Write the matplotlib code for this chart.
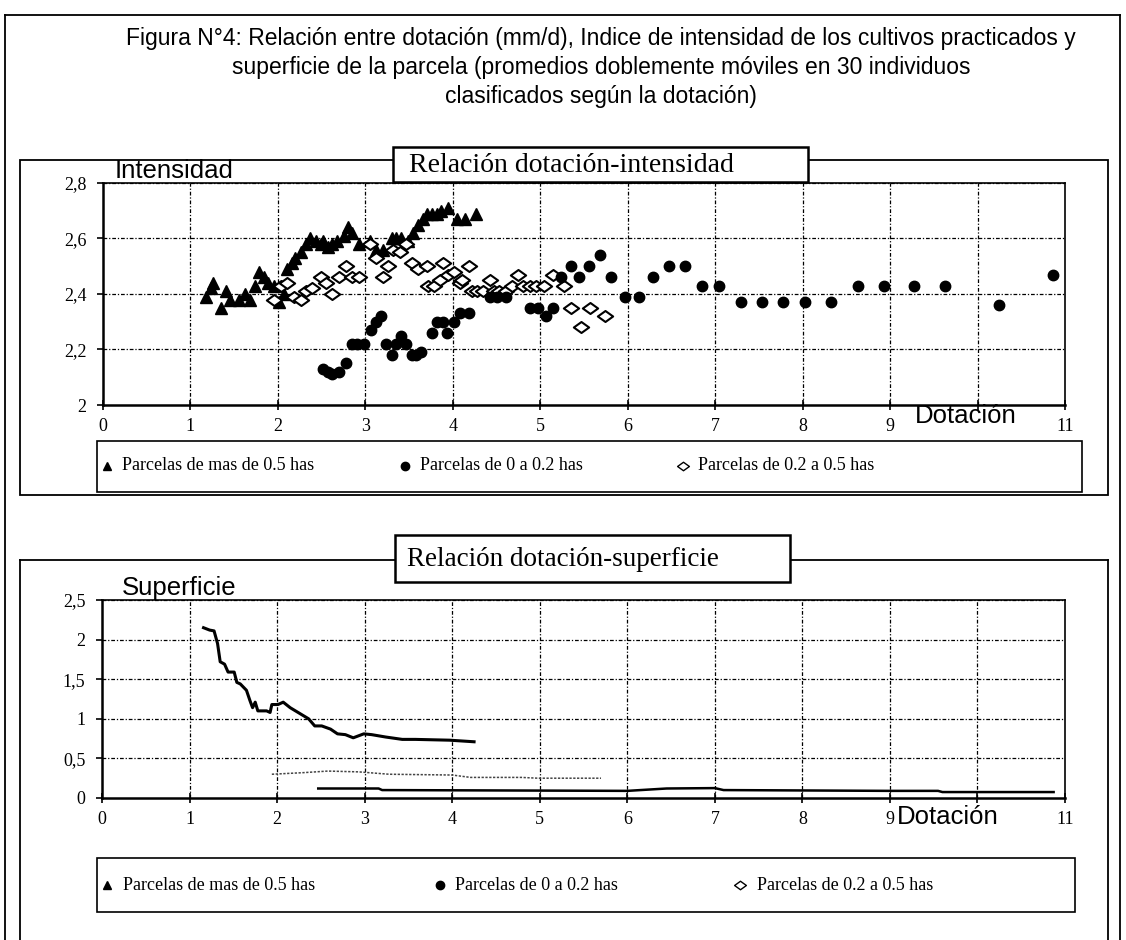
import matplotlib
matplotlib.use('Agg')
import matplotlib.pyplot as plt
from matplotlib.lines import Line2D
from matplotlib.patches import Rectangle
from matplotlib.path import Path

# ---------------- data ----------------
title_lines = ["Figura N°4: Relación entre dotación (mm/d), Indice de intensidad de los cultivos practicados y",
               "superficie de la parcela (promedios doblemente móviles en 30 individuos",
               "clasificados según la dotación)"]
legend_labels = ["Parcelas de mas de 0.5 has", "Parcelas de 0 a 0.2 has", "Parcelas de 0.2 a 0.5 has"]

x_ticks = [0, 1, 2, 3, 4, 5, 6, 7, 8, 9, 10, 11]
x_ticklabels = ["0", "1", "2", "3", "4", "5", "6", "7", "8", "9", "", "11"]
int_yticks = [2.0, 2.2, 2.4, 2.6, 2.8]
int_yticklabels = ["2", "2,2", "2,4", "2,6", "2,8"]
sup_yticks = [0, 0.5, 1.0, 1.5, 2.0, 2.5]
sup_yticklabels = ["0", "0,5", "1", "1,5", "2", "2,5"]

# Intensidad: parcelas > 0.5 has (triangles)
tri_x = [1.18, 1.24, 1.26, 1.35, 1.41, 1.45, 1.55, 1.62, 1.68, 1.74, 1.78, 1.84, 1.89, 1.95,
         2.01, 2.07, 2.10, 2.16, 2.20, 2.26, 2.32, 2.37, 2.43, 2.49, 2.51, 2.57, 2.62, 2.68,
         2.76, 2.80, 2.85, 2.93, 3.05, 3.12, 3.20, 3.30, 3.35, 3.41, 3.49, 3.55, 3.60, 3.66,
         3.70, 3.76, 3.82, 3.87, 3.95, 4.05, 4.14, 4.27]
tri_y = [2.39, 2.42, 2.44, 2.35, 2.41, 2.38, 2.38, 2.40, 2.38, 2.43, 2.48, 2.46, 2.44, 2.43,
         2.37, 2.40, 2.49, 2.51, 2.53, 2.55, 2.58, 2.60, 2.59, 2.58, 2.59, 2.57, 2.58, 2.59,
         2.61, 2.64, 2.62, 2.58, 2.59, 2.56, 2.56, 2.60, 2.60, 2.60, 2.59, 2.62, 2.65, 2.67,
         2.69, 2.69, 2.69, 2.70, 2.71, 2.67, 2.67, 2.69]

# Intensidad: parcelas 0 - 0.2 has (filled circles)
cir_x = [2.51, 2.57, 2.62, 2.70, 2.78, 2.85, 2.91, 2.99, 3.07, 3.12, 3.18, 3.24, 3.30, 3.35,
         3.41, 3.47, 3.53, 3.58, 3.64, 3.76, 3.82, 3.89, 3.93, 4.01, 4.08, 4.18, 4.43, 4.51,
         4.61, 4.88, 4.97, 5.07, 5.15, 5.24, 5.35, 5.44, 5.56, 5.68, 5.81, 5.97, 6.13, 6.29,
         6.47, 6.65, 6.85, 7.04, 7.29, 7.53, 7.78, 8.03, 8.33, 8.63, 8.93, 9.27, 9.63, 10.24,
         10.86]
cir_y = [2.13, 2.12, 2.11, 2.12, 2.15, 2.22, 2.22, 2.22, 2.27, 2.30, 2.32, 2.22, 2.18, 2.22,
         2.25, 2.22, 2.18, 2.18, 2.19, 2.26, 2.30, 2.30, 2.26, 2.30, 2.33, 2.33, 2.39, 2.39,
         2.39, 2.35, 2.35, 2.32, 2.35, 2.46, 2.50, 2.46, 2.50, 2.54, 2.46, 2.39, 2.39, 2.46,
         2.50, 2.50, 2.43, 2.43, 2.37, 2.37, 2.37, 2.37, 2.37, 2.43, 2.43, 2.43, 2.43, 2.36,
         2.47]

# Intensidad: parcelas 0.2 - 0.5 has (open diamonds)
dia_x = [1.95, 2.03, 2.10, 2.18, 2.26, 2.32, 2.39, 2.49, 2.55, 2.62, 2.70, 2.78, 2.85, 2.93,
         3.05, 3.12, 3.20, 3.26, 3.32, 3.40, 3.47, 3.53, 3.60, 3.70, 3.72, 3.79, 3.85, 3.89,
         3.95, 4.01, 4.08, 4.10, 4.18, 4.22, 4.28, 4.35, 4.42, 4.47, 4.53, 4.61, 4.68, 4.74,
         4.80, 4.88, 4.95, 5.04, 5.15, 5.27, 5.35, 5.46, 5.57, 5.74]
dia_y = [2.38, 2.43, 2.44, 2.39, 2.38, 2.41, 2.42, 2.46, 2.44, 2.40, 2.46, 2.50, 2.46, 2.46,
         2.58, 2.53, 2.46, 2.50, 2.56, 2.55, 2.58, 2.51, 2.49, 2.50, 2.43, 2.43, 2.45, 2.51,
         2.47, 2.48, 2.44, 2.45, 2.50, 2.41, 2.41, 2.41, 2.45, 2.41, 2.41, 2.41, 2.43, 2.47,
         2.43, 2.43, 2.43, 2.43, 2.47, 2.43, 2.35, 2.28, 2.35, 2.32]

# Superficie: parcelas > 0.5 has (thick line)
sup_big_x = [1.16, 1.23, 1.28, 1.32, 1.35, 1.40, 1.44, 1.51, 1.54, 1.58, 1.65, 1.69, 1.72,
             1.75, 1.78, 1.88, 1.92, 1.94, 2.01, 2.07, 2.15, 2.24, 2.36, 2.43, 2.51, 2.61,
             2.69, 2.78, 2.87, 2.99, 3.08, 3.24, 3.43, 3.58, 3.97, 4.25]
sup_big_y = [2.15, 2.12, 2.11, 1.95, 1.72, 1.69, 1.59, 1.59, 1.46, 1.44, 1.36, 1.23, 1.14,
             1.21, 1.10, 1.10, 1.08, 1.18, 1.18, 1.21, 1.14, 1.08, 1.00, 0.91, 0.91, 0.87,
             0.81, 0.80, 0.76, 0.81, 0.80, 0.77, 0.74, 0.74, 0.73, 0.71]

# Superficie: parcelas 0.2 - 0.5 has (dotted line)
sup_mid_x = [1.94, 2.30, 2.58, 2.93, 3.28, 4.00, 4.21, 4.79, 4.98, 5.70]
sup_mid_y = [0.30, 0.32, 0.34, 0.33, 0.30, 0.29, 0.26, 0.26, 0.25, 0.25]

# Superficie: parcelas 0 - 0.2 has (thin line)
sup_small_x = [2.47, 3.16, 3.20, 6.00, 6.45, 7.00, 7.10, 9.00, 9.55, 9.60, 10.87]
sup_small_y = [0.12, 0.12, 0.10, 0.09, 0.12, 0.125, 0.10, 0.09, 0.09, 0.075, 0.075]

# ---------------- layout helpers ----------------
W, H = 1126, 940
fig = plt.figure(figsize=(W / 100, H / 100), dpi=100)
fig.patch.set_facecolor('white')

SANS = ['Liberation Sans', 'DejaVu Sans']
SERIF = ['Liberation Serif', 'DejaVu Serif']

# wide diamond marker (wider than tall, as in the scanned chart)
WIDE_DIAMOND = Path([(-1, 0), (0, 0.72), (1, 0), (0, -0.72), (-1, 0)],
                    [Path.MOVETO, Path.LINETO, Path.LINETO, Path.LINETO, Path.CLOSEPOLY])


def fx(p):
    return p / W


def fy(p):
    return 1 - p / H


def fline(x0, y0, x1, y1, lw=1.3, z=1):
    fig.add_artist(Line2D([fx(x0), fx(x1)], [fy(y0), fy(y1)], transform=fig.transFigure,
                          color='black', lw=lw, zorder=z))


def frect(x0, y0, x1, y1, lw=1.3, fill=False, z=2):
    fig.add_artist(Rectangle((fx(x0), fy(y1)), (x1 - x0) / W, (y1 - y0) / H,
                             transform=fig.transFigure, facecolor='white' if fill else 'none',
                             fill=fill, edgecolor='black', lw=lw, zorder=z))


# outer frame
fline(5, 15, 1120, 15)
fline(5, 15, 5, 940)
fline(1120, 15, 1120, 940)

# title
for i, t in enumerate(title_lines):
    fig.text(fx(601), fy(38 + 29.5 * i), t, ha='center', va='center', fontsize=16.5,
             family=SANS)

# top panel frame + header box
frect(20, 160, 1108, 495)
frect(393, 147, 808, 182, lw=1.8, fill=True, z=3)
fig.text(fx(409), fy(165), "Relación dotación-intensidad", ha='left', va='center',
         fontsize=20, family=SERIF, zorder=4)

# bottom panel frame + header box
fline(20, 560, 1108, 560)
fline(20, 560, 20, 940)
fline(1108, 560, 1108, 940)
frect(395, 535, 790, 582, lw=1.8, fill=True, z=3)
fig.text(fx(407), fy(559), "Relación dotación-superficie", ha='left', va='center',
         fontsize=19.5, family=SERIF, zorder=4)

grid_kw = dict(color='black', lw=0.9, linestyle=(0, (3, 1.5, 1, 1.5)))


def style_axes(ax, yticks, ylabels, ylim):
    ax.set_xlim(0, 11)
    ax.set_ylim(*ylim)
    ax.set_xticks(x_ticks)
    ax.set_xticklabels(x_ticklabels, family=SERIF, fontsize=13)
    ax.set_yticks(yticks)
    ax.set_yticklabels(ylabels, family=SERIF, fontsize=13)
    ax.tick_params(axis='x', direction='inout', length=7, width=1.2, pad=6)
    ax.tick_params(axis='y', direction='out', length=4, width=1.2, pad=8)
    for s in ax.spines.values():
        s.set_linewidth(1.2)
    ax.spines['left'].set_linewidth(1.8)
    ax.spines['bottom'].set_linewidth(1.8)
    for v in x_ticks[1:-1]:
        ax.axvline(v, zorder=0, **grid_kw)
    for v in yticks[1:]:
        ax.axhline(v, zorder=0, **grid_kw)


# ---------------- top chart: intensidad ----------------
ax1 = fig.add_axes([fx(103), fy(405), (1065 - 103) / W, (405 - 183) / H])
style_axes(ax1, int_yticks, int_yticklabels, (2.0, 2.8))
ax1.plot(tri_x, tri_y, linestyle='none', marker='^', color='black', markersize=8, zorder=3)
ax1.plot(dia_x, dia_y, linestyle='none', marker=WIDE_DIAMOND, markerfacecolor='white',
         markeredgecolor='black', markeredgewidth=1.5, markersize=11, zorder=4)
ax1.plot(cir_x, cir_y, linestyle='none', marker='o', color='black', markersize=7.5, zorder=5)
fig.text(fx(115), fy(171), "Intensidad", ha='left', va='center', fontsize=18.5, family=SANS)
fig.text(fx(915), fy(416), "Dotación", ha='left', va='center', fontsize=18.5, family=SANS)

# top legend
frect(97, 441, 1082, 492, lw=1.2)
leg_items = [('^', 'black', 107, 122), ('o', 'black', 405, 420), (WIDE_DIAMOND, 'white', 683, 698)]
for (m, fc, mx, tx), lab in zip(leg_items, legend_labels):
    fig.add_artist(Line2D([fx(mx)], [fy(466)], transform=fig.transFigure, marker=m,
                          markersize=6 if m != WIDE_DIAMOND else 8.5, markerfacecolor=fc,
                          markeredgecolor='black', linestyle='none'))
    fig.text(fx(tx), fy(466), lab, ha='left', va='center', fontsize=13, family=SERIF)

# ---------------- bottom chart: superficie ----------------
ax2 = fig.add_axes([fx(102), fy(798), (1065 - 102) / W, (798 - 600) / H])
style_axes(ax2, sup_yticks, sup_yticklabels, (0, 2.5))
ax2.plot(sup_big_x, sup_big_y, color='black', lw=2.2, zorder=3)
ax2.plot(sup_mid_x, sup_mid_y, color='#444444', lw=1.1, linestyle=(0, (1.5, 1)), zorder=3)
ax2.plot(sup_small_x, sup_small_y, color='black', lw=1.8, zorder=3)
fig.text(fx(122), fy(588), "Superficie", ha='left', va='center', fontsize=18.5, family=SANS)
fig.text(fx(897), fy(817), "Dotación", ha='left', va='center', fontsize=18.5, family=SANS)

# bottom legend
frect(97, 858, 1075, 912, lw=1.2)
leg_items2 = [('^', 'black', 107, 123), ('o', 'black', 440, 455), (WIDE_DIAMOND, 'white', 740, 757)]
for (m, fc, mx, tx), lab in zip(leg_items2, legend_labels):
    fig.add_artist(Line2D([fx(mx)], [fy(885)], transform=fig.transFigure, marker=m,
                          markersize=6 if m != WIDE_DIAMOND else 8.5, markerfacecolor=fc,
                          markeredgecolor='black', linestyle='none'))
    fig.text(fx(tx), fy(885), lab, ha='left', va='center', fontsize=13, family=SERIF)

fig.savefig('out.png', dpi=100, facecolor='white')
